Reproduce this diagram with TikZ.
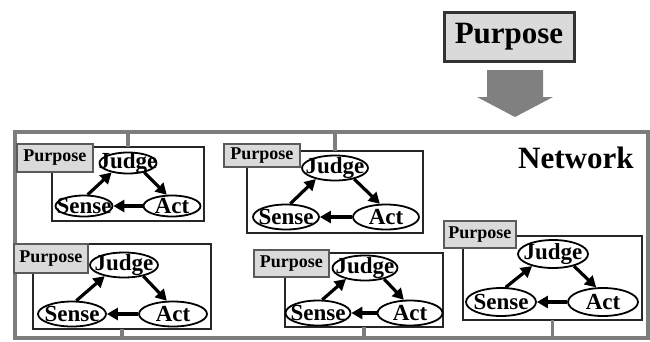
\documentclass[tikz,border=0pt]{standalone}
\usepackage{fontspec}
\setmainfont{Liberation Serif}
\usetikzlibrary{shapes.geometric,arrows.meta}
\definecolor{framegray}{RGB}{125,125,125}
\definecolor{lblfill}{RGB}{218,218,218}
\definecolor{lbldraw}{RGB}{90,90,90}
\definecolor{arrowgray}{RGB}{128,128,128}
\tikzset{
  frm/.style={draw=framegray, line width=3.2pt},
  unitbox/.style={draw=black!85, line width=1.8pt, anchor=north west, inner sep=0pt, outer sep=0pt},
  ell/.style={draw, ellipse, line width=1.8pt, inner sep=0pt, fill=white},
  ctext/.style={font=\bfseries\fontsize{23}{23}\selectfont, inner sep=0pt},
  plabel/.style={draw=lbldraw, fill=lblfill, line width=1.6pt, font=\bfseries\fontsize{18}{18}\selectfont, inner sep=0pt, anchor=north west},
  cyc/.style={line width=3.2pt, -{Triangle[length=11pt,width=12pt]}},
  bigarrow/.style={fill=arrowgray},
}
% #1 prefix, #2 judge centre, #3 sense centre, #4 act centre, #5 width, #6 height
\newcommand\jsaunit[6]{%
  \node[ell, minimum width=#5pt, minimum height=#6pt] (#1j) at (#2) {};
  \node[ell, minimum width=#5pt, minimum height=#6pt] (#1s) at (#3) {};
  \node[ell, minimum width=#5pt, minimum height=#6pt] (#1a) at (#4) {};
  \node[ctext] (#1jt) at (#1j) {Judge};
  \node[ctext] (#1st) at (#1s) {Sense};
  \node[ctext] (#1at) at (#1a) {Act};
  \draw[cyc] (#1s.72) -- (#1j.210);
  \draw[cyc] (#1j.-30) -- (#1a.115);
  \draw[cyc] (#1a.west) -- (#1s.east);
}
\begin{document}
\begin{tikzpicture}[x=1pt, y=-1pt]
  \useasboundingbox (0,0) rectangle (650,341);
  \fill[white] (0,0) rectangle (650,341);

  % top purpose and block arrow
  \node[draw=black!80, line width=3pt, fill=lblfill, minimum width=130pt, minimum height=49pt,
        font=\bfseries\fontsize{31}{31}\selectfont, inner sep=0pt] (top) at (509,36.5) {Purpose};
  \fill[bigarrow] (487,70) -- (543,70) -- (543,97) -- (553,97) -- (515,117) -- (477,97) -- (487,97) -- cycle;

  % network frame
  \node[frm, anchor=north west, minimum width=633pt, minimum height=206pt, inner sep=0pt, outer sep=0pt] (net) at (15,132) {};
  \node[font=\bfseries\fontsize{31}{31}\selectfont, anchor=base west, inner sep=0pt] (nettitle) at (518,168) {Network};

  % unit boxes
  \node[unitbox, minimum width=152pt, minimum height=74pt] (b1) at (52,147) {};
  \node[unitbox, minimum width=176pt, minimum height=82pt] (b2) at (247,151) {};
  \node[unitbox, minimum width=178pt, minimum height=85pt] (b4) at (33,244) {};
  \node[unitbox, minimum width=158pt, minimum height=74pt] (b5) at (285,253) {};
  \node[unitbox, minimum width=179pt, minimum height=84pt] (b6) at (463,236) {};

  % ticks to frame
  \draw[frm] (b1.north) -- (b1.north |- net.north);
  \draw[frm] (b2.north) -- (b2.north |- net.north);
  \draw[frm] (b4.south) -- (b4.south |- net.south);
  \draw[frm] (b5.south) -- (b5.south |- net.south);
  \draw[frm] (b6.south) -- (b6.south |- net.south);

  % cycles
  \jsaunit{u1}{128,163}{84,206}{172,206}{57}{21}
  \jsaunit{u2}{335,168}{286,217}{386,217}{66}{25}
  \jsaunit{u4}{124,265}{72,314}{173,314}{68}{25}
  \jsaunit{u5}{365,268}{318,313}{410,313}{65}{25}
  \jsaunit{u6}{553,254}{501,302}{603,302}{70}{28}

  % purpose labels
  \node[plabel, minimum width=76pt, minimum height=28pt] (p1) at (16,143) {Purpose};
  \node[plabel, minimum width=76pt, minimum height=23pt] (p2) at (223,143) {Purpose};
  \node[plabel, minimum width=74pt, minimum height=29pt] (p4) at (13,243) {Purpose};
  \node[plabel, minimum width=75pt, minimum height=27pt] (p5) at (253,249) {Purpose};
  \node[plabel, minimum width=72pt, minimum height=27pt] (p6) at (443,220) {Purpose};
\end{tikzpicture}
\end{document}
